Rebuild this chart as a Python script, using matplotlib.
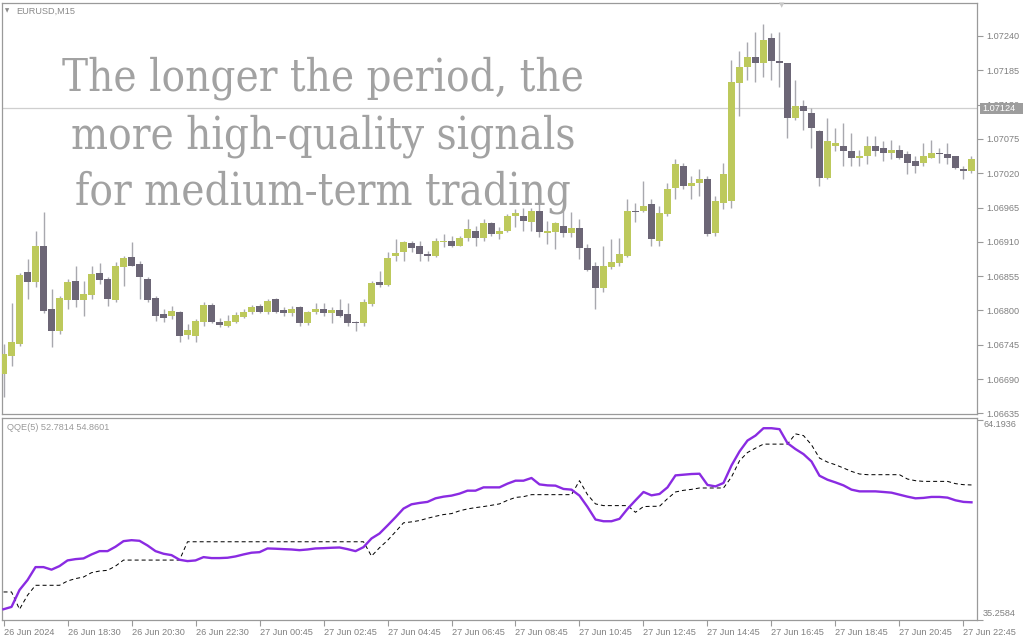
import matplotlib
matplotlib.use("Agg")
import matplotlib.pyplot as plt
from matplotlib import font_manager
from matplotlib.patches import Rectangle
from matplotlib.transforms import blended_transform_factory

# ---------------- data ----------------
symbol_label = "EURUSD,M15"
open_ = [1.06698, 1.06727, 1.06746, 1.06861, 1.06845, 1.06904, 1.06802, 1.06767, 1.06816, 1.06847,
         1.06816, 1.06824, 1.06860, 1.06850, 1.06816, 1.06869, 1.06885, 1.06874, 1.06850, 1.06820,
         1.06794, 1.06791, 1.06797, 1.06760, 1.06759, 1.06781, 1.06808, 1.06781, 1.06775, 1.06781,
         1.06789, 1.06797, 1.06807, 1.06797, 1.06818, 1.06800, 1.06796, 1.06805, 1.06780, 1.06797,
         1.06802, 1.06796, 1.06800, 1.06794, 1.06781, 1.06780, 1.06810, 1.06845, 1.06840, 1.06888,
         1.06893, 1.06908, 1.06903, 1.06890, 1.06888, 1.06909, 1.06911, 1.06904, 1.06916, 1.06928,
         1.06916, 1.06940, 1.06922, 1.06927, 1.06951, 1.06951, 1.06941, 1.06960, 1.06924, 1.06925,
         1.06936, 1.06924, 1.06932, 1.06900, 1.06871, 1.06836, 1.06869, 1.06876, 1.06887, 1.06959,
         1.06959, 1.06970, 1.06912, 1.06954, 1.06996, 1.07032, 1.06999, 1.07004, 1.07010, 1.06924,
         1.06972, 1.06975, 1.07165, 1.07191, 1.07207, 1.07196, 1.07236, 1.07200, 1.07196, 1.07109,
         1.07128, 1.07116, 1.07087, 1.07012, 1.07063, 1.07064, 1.07055, 1.07045, 1.07047, 1.07064,
         1.07060, 1.07053, 1.07058, 1.07050, 1.07039, 1.07036, 1.07045, 1.07053, 1.07050, 1.07047,
         1.07026, 1.07023]
high = [1.06746, 1.06812, 1.06860, 1.06882, 1.06927, 1.06957, 1.06834, 1.06823, 1.06850, 1.06871,
        1.06847, 1.06871, 1.06876, 1.06853, 1.06877, 1.06887, 1.06909, 1.06879, 1.06853, 1.06823,
        1.06802, 1.06807, 1.06799, 1.06778, 1.06786, 1.06813, 1.06812, 1.06788, 1.06792, 1.06797,
        1.06802, 1.06808, 1.06810, 1.06818, 1.06820, 1.06805, 1.06807, 1.06807, 1.06799, 1.06812,
        1.06812, 1.06805, 1.06818, 1.06812, 1.06783, 1.06818, 1.06847, 1.06863, 1.06893, 1.06914,
        1.06912, 1.06911, 1.06911, 1.06895, 1.06916, 1.06922, 1.06919, 1.06919, 1.06946, 1.06935,
        1.06946, 1.06941, 1.06933, 1.06954, 1.06962, 1.06965, 1.06965, 1.06989, 1.06943, 1.06941,
        1.06967, 1.06957, 1.06946, 1.06906, 1.06877, 1.06903, 1.06914, 1.06916, 1.06978, 1.06973,
        1.07007, 1.06978, 1.06967, 1.07005, 1.07042, 1.07037, 1.07015, 1.07026, 1.07015, 1.06983,
        1.07037, 1.07202, 1.07216, 1.07231, 1.07247, 1.07260, 1.07245, 1.07247, 1.07197, 1.07170,
        1.07138, 1.07125, 1.07090, 1.07109, 1.07093, 1.07101, 1.07084, 1.07058, 1.07079, 1.07079,
        1.07071, 1.07074, 1.07066, 1.07055, 1.07047, 1.07069, 1.07074, 1.07061, 1.07069, 1.07048,
        1.07031, 1.07047]
low = [1.06661, 1.06711, 1.06743, 1.06818, 1.06837, 1.06796, 1.06741, 1.06762, 1.06802, 1.06805,
       1.06791, 1.06818, 1.06842, 1.06807, 1.06813, 1.06839, 1.06871, 1.06818, 1.06813, 1.06783,
       1.06781, 1.06786, 1.06749, 1.06754, 1.06749, 1.06775, 1.06780, 1.06773, 1.06773, 1.06780,
       1.06788, 1.06794, 1.06796, 1.06794, 1.06796, 1.06791, 1.06791, 1.06775, 1.06776, 1.06794,
       1.06791, 1.06780, 1.06789, 1.06775, 1.06767, 1.06775, 1.06807, 1.06837, 1.06839, 1.06879,
       1.06879, 1.06893, 1.06879, 1.06879, 1.06885, 1.06901, 1.06901, 1.06903, 1.06911, 1.06903,
       1.06911, 1.06919, 1.06914, 1.06925, 1.06933, 1.06927, 1.06927, 1.06917, 1.06906, 1.06898,
       1.06917, 1.06917, 1.06882, 1.06863, 1.06802, 1.06829, 1.06866, 1.06871, 1.06885, 1.06941,
       1.06957, 1.06903, 1.06903, 1.06952, 1.06978, 1.06994, 1.06978, 1.06983, 1.06920, 1.06920,
       1.06962, 1.06965, 1.07112, 1.07170, 1.07167, 1.07175, 1.07170, 1.07159, 1.07076, 1.07106,
       1.07090, 1.07061, 1.06999, 1.07010, 1.07055, 1.07031, 1.07031, 1.07031, 1.07034, 1.07047,
       1.07039, 1.07042, 1.07042, 1.07018, 1.07021, 1.07031, 1.07044, 1.07037, 1.07034, 1.07026,
       1.07010, 1.07021]
close = [1.06730, 1.06749, 1.06856, 1.06845, 1.06903, 1.06799, 1.06767, 1.06820, 1.06845, 1.06816,
         1.06826, 1.06858, 1.06848, 1.06818, 1.06871, 1.06884, 1.06872, 1.06853, 1.06816, 1.06791,
         1.06788, 1.06799, 1.06759, 1.06768, 1.06783, 1.06808, 1.06781, 1.06776, 1.06783, 1.06792,
         1.06797, 1.06805, 1.06797, 1.06815, 1.06797, 1.06796, 1.06802, 1.06780, 1.06797, 1.06802,
         1.06796, 1.06800, 1.06791, 1.06780, 1.06780, 1.06813, 1.06844, 1.06840, 1.06884, 1.06892,
         1.06909, 1.06900, 1.06890, 1.06888, 1.06911, 1.06911, 1.06903, 1.06916, 1.06930, 1.06916,
         1.06940, 1.06922, 1.06928, 1.06951, 1.06956, 1.06943, 1.06959, 1.06925, 1.06928, 1.06940,
         1.06924, 1.06932, 1.06900, 1.06864, 1.06836, 1.06871, 1.06877, 1.06890, 1.06959, 1.06957,
         1.06968, 1.06914, 1.06956, 1.06994, 1.07034, 1.06999, 1.07004, 1.07010, 1.06922, 1.06976,
         1.07018, 1.07167, 1.07191, 1.07207, 1.07196, 1.07234, 1.07200, 1.07196, 1.07108, 1.07128,
         1.07120, 1.07092, 1.07012, 1.07071, 1.07068, 1.07055, 1.07045, 1.07048, 1.07063, 1.07056,
         1.07053, 1.07058, 1.07045, 1.07037, 1.07032, 1.07048, 1.07053, 1.07050, 1.07045, 1.07028,
         1.07023, 1.07042]

qqe_fast = [36.77, 37.11, 39.57, 41.01, 42.89, 42.89, 42.52, 43.04, 43.86, 44.05,
            44.15, 44.73, 45.21, 45.21, 45.85, 46.66, 46.80, 46.71, 46.03, 45.21,
            44.83, 44.63, 43.96, 43.76, 43.86, 44.34, 44.20, 44.20, 44.25, 44.44,
            44.73, 44.98, 45.06, 45.60, 45.56, 45.50, 45.45, 45.35, 45.45, 45.60,
            45.64, 45.70, 45.74, 45.50, 45.21, 45.79, 47.05, 47.77, 48.93, 50.13,
            51.39, 52.01, 52.21, 52.36, 52.88, 53.12, 53.27, 53.56, 53.99, 53.99,
            54.47, 54.47, 54.47, 55.01, 55.44, 55.44, 55.83, 54.90, 54.76, 54.72,
            54.24, 54.14, 53.27, 51.63, 49.80, 49.55, 49.55, 49.90, 51.34, 52.59,
            53.80, 53.31, 53.51, 54.47, 56.21, 56.31, 56.41, 56.45, 54.82, 54.61,
            55.11, 57.65, 59.68, 61.27, 61.99, 63.06, 63.06, 62.92, 60.89, 60.03,
            59.30, 58.23, 56.16, 55.58, 55.19, 54.76, 54.14, 53.89, 53.89, 53.89,
            53.80, 53.70, 53.41, 53.12, 52.88, 52.94, 53.08, 53.08, 52.98, 52.59,
            52.36, 52.30]
qqe_slow = [39.28, 39.28, 36.77, 38.80, 40.25, 40.25, 40.25, 40.25, 40.87, 41.22,
            41.45, 42.08, 42.32, 42.42, 43.04, 43.91, 43.91, 43.91, 43.91, 43.91,
            43.91, 43.91, 43.91, 46.57, 46.57, 46.57, 46.57, 46.57, 46.57, 46.57,
            46.57, 46.57, 46.57, 46.57, 46.57, 46.57, 46.57, 46.57, 46.57, 46.57,
            46.57, 46.57, 46.57, 46.57, 46.57, 46.57, 44.49, 45.70, 46.76, 48.02,
            49.32, 49.46, 49.65, 49.98, 50.27, 50.52, 50.66, 51.06, 51.34, 51.53,
            51.68, 51.87, 52.07, 52.59, 53.01, 53.12, 53.41, 53.41, 53.41, 53.41,
            53.41, 53.41, 55.44, 53.41, 52.07, 51.82, 51.82, 51.82, 51.82, 50.85,
            51.68, 51.72, 51.72, 52.83, 53.80, 54.04, 54.18, 54.38, 54.38, 54.38,
            54.38, 55.97, 58.33, 59.53, 60.17, 60.75, 60.75, 60.75, 60.75, 62.24,
            61.99, 60.65, 58.72, 58.14, 57.75, 57.28, 56.79, 56.41, 56.31, 56.31,
            56.31, 56.31, 56.31, 55.68, 55.44, 55.34, 55.34, 55.34, 55.34, 55.01,
            54.86, 54.82]
qqe_label = "QQE(5) 52.7814 54.8601"
qqe_max_label = "64.1936"
qqe_min_label = "35.2584"
qqe_max = 64.1936
qqe_min = 35.2584

price_ticks = [1.06635, 1.06690, 1.06745, 1.06800, 1.06855, 1.06910, 1.06965,
               1.07020, 1.07075, 1.07130, 1.07185, 1.07240]
current_price = 1.07124

time_label_bars = [0, 8, 16, 24, 32, 40, 48, 56, 64, 72, 80, 88, 96, 104, 112, 120]
time_labels = ["26 Jun 2024", "26 Jun 18:30", "26 Jun 20:30", "26 Jun 22:30",
               "27 Jun 00:45", "27 Jun 02:45", "27 Jun 04:45", "27 Jun 06:45",
               "27 Jun 08:45", "27 Jun 10:45", "27 Jun 12:45", "27 Jun 14:45",
               "27 Jun 16:45", "27 Jun 18:45", "27 Jun 20:45", "27 Jun 22:45"]

overlay_lines = ["The longer the period, the",
                 "more high-quality signals",
                 "for medium-term trading"]

# ---------------- style ----------------
BULL = "#bdc95c"
BEAR = "#6c6676"
WICK = "#a8a8ae"
FRAME = "#9a9a9a"
LABEL = "#808080"
AXFONT = "Liberation Sans"
AXSIZE = 6.6

W, H = 1024, 640
fig = plt.figure(figsize=(W / 100, H / 100), dpi=100)
fig.patch.set_facecolor("white")


def box(l, t, r, b):
    return [l / W, 1 - b / H, (r - l) / W, (b - t) / H]


ax = fig.add_axes(box(2, 3, 977, 414))
axq = fig.add_axes(box(2, 418, 977, 620))

n = len(open_)
xs = list(range(n))
xlim = (-0.19, 121.69)
ylim = (1.066339, 1.072929)

# ---------------- candles ----------------
ax.vlines(xs, low, high, color=WICK, linewidth=1.0, zorder=2)
bott = [min(o, c) for o, c in zip(open_, close)]
hgt = [max(abs(c - o), 0.000012) for o, c in zip(open_, close)]
cols = [BULL if c >= o else BEAR for o, c in zip(open_, close)]
ax.bar(xs, hgt, bottom=bott, width=0.78, color=cols, linewidth=0, zorder=3)

ax.axhline(current_price, color="#cfcfcf", linewidth=0.9, zorder=1)
ax.set_xlim(*xlim)
ax.set_ylim(*ylim)
ax.yaxis.tick_right()
ax.set_yticks(price_ticks)
ax.set_yticklabels([f"{p:.5f}" for p in price_ticks])
ax.tick_params(axis="y", direction="out", length=4, width=0.8, color=FRAME,
               labelsize=AXSIZE, labelcolor=LABEL, pad=3)
for lab in ax.get_yticklabels():
    lab.set_fontfamily(AXFONT)
ax.set_xticks([])
for s in ax.spines.values():
    s.set_color(FRAME)
    s.set_linewidth(0.9)

# current price box on the price scale
ax_w_px = 975.0
px_price = (ylim[1] - ylim[0]) / 411.0
btrans = blended_transform_factory(ax.transAxes, ax.transData)
ax.add_patch(Rectangle((1.0 + 2.5 / ax_w_px, current_price - 5.3 * px_price),
                       43 / ax_w_px, 10.6 * px_price, transform=btrans,
                       facecolor="#9d9d9d", edgecolor="none", clip_on=False,
                       zorder=9))
ax.text(1.0 + 5 / ax_w_px, current_price, f"{current_price:.5f}",
        transform=btrans, ha="left", va="center", fontsize=AXSIZE,
        family=AXFONT, color="white", zorder=10, clip_on=False)

# ---------------- QQE ----------------
axq.plot(xs, qqe_fast, color="#8a2be2", linewidth=1.7, zorder=3,
         solid_joinstyle="round")
axq.plot(xs, qqe_slow, color="black", linewidth=0.72, linestyle=(0, (4, 3)),
         zorder=2)
axq.set_xlim(*xlim)
axq.set_ylim(qqe_min - 0.05, qqe_max + 0.35)
axq.yaxis.tick_right()
axq.set_yticks([qqe_min, qqe_max])
axq.set_yticklabels(["", ""])
axq.tick_params(axis="y", direction="out", length=4, width=0.8, color=FRAME)
axq.set_xticks(time_label_bars)
axq.set_xticklabels(time_labels)
axq.tick_params(axis="x", direction="out", length=4, width=0.8, color=FRAME,
                labelsize=AXSIZE, labelcolor=LABEL, pad=2)
for lab in axq.get_xticklabels():
    lab.set_fontfamily(AXFONT)
    lab.set_horizontalalignment("left")
for s in axq.spines.values():
    s.set_color(FRAME)
    s.set_linewidth(0.9)

axq.text(1.0 + 6 / ax_w_px, 0.97, qqe_max_label, transform=axq.transAxes,
         ha="left", va="center", fontsize=AXSIZE, family=AXFONT, color=LABEL,
         clip_on=False)
axq.text(1.0 + 6 / ax_w_px, 0.03, qqe_min_label, transform=axq.transAxes,
         ha="left", va="center", fontsize=AXSIZE, family=AXFONT, color=LABEL,
         clip_on=False)
axq.text(5 / ax_w_px, 0.955, qqe_label, transform=axq.transAxes, ha="left",
         va="center", fontsize=AXSIZE, family=AXFONT, color="#9a9a9a")

# ---------------- header texts ----------------
fig.text(5 / W, 1 - 11 / H, "\u25BC", fontsize=4, color="#8a8a8a",
         ha="left", va="center")
fig.text(16 / W, 1 - 11 / H, symbol_label, fontsize=AXSIZE, family=AXFONT,
         color="#8a8a8a", ha="left", va="center")
fig.text(782 / W, 1 - 5 / H, "\u25BC", fontsize=5, color="#c8c8c8",
         ha="center", va="center")

# ---------------- overlay text ----------------
fp_path = font_manager.findfont(font_manager.FontProperties(
    family="DejaVu Serif", stretch="condensed"))
if "Condensed" in fp_path:
    ofp = dict(fontproperties=font_manager.FontProperties(fname=fp_path))
else:
    ofp = dict(family="DejaVu Serif")

baselines = [90, 148, 205]
texts = []
for line, yb in zip(overlay_lines, baselines):
    t = fig.text(323 / W, 1 - yb / H, line, ha="center", va="baseline",
                 color="#a2a2a2", zorder=20, **ofp)
    t.set_fontsize(30)
    texts.append(t)
fig.canvas.draw()
r = fig.canvas.get_renderer()
w0 = texts[0].get_window_extent(r).width
fs = 30 * 520 / w0
for t in texts:
    t.set_fontsize(fs)

fig.savefig("out.png", dpi=100, facecolor="white")
